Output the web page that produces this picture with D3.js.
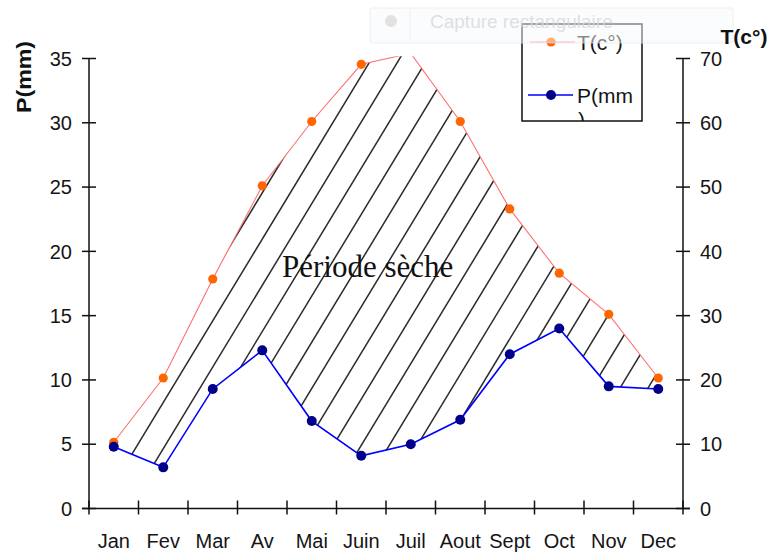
<!DOCTYPE html>
<html><head><meta charset="utf-8">
<script src="https://cdn.jsdelivr.net/npm/d3@7/dist/d3.min.js"></script>
<style>
html,body{margin:0;padding:0;background:#fff;}
svg{display:block;font-family:"Liberation Sans",Arial,sans-serif;}
</style></head>
<body>
<svg id="c" width="772" height="555"></svg>
<script>
const months = ["Jan","Fev","Mar","Av","Mai","Juin","Juil","Aout","Sept","Oct","Nov","Dec"];
const precip = [4.8, 3.2, 9.3, 12.3, 6.8, 4.1, 5.0, 6.9, 12.0, 14.0, 9.5, 9.3];
const temp = [10.3, 20.3, 35.7, 50.2, 60.2, 69.1, 70.8, 60.2, 46.6, 36.6, 30.2, 20.3];
const pTicks = [0,5,10,15,20,25,30,35];
const tTicks = [0,10,20,30,40,50,60,70];

const svg = d3.select("#c");
const L = 89, R = 683, T = 58.5, B = 508.5;
const x = d3.scaleBand().domain(months).range([L, R]).padding(0);
const cx = m => x(m) + x.bandwidth()/2;
const yP = d3.scaleLinear().domain([0,35]).range([B, T]);
const yT = d3.scaleLinear().domain([0,70]).range([B, T]);

const defs = svg.append("defs");
defs.append("clipPath").attr("id","plotclip").append("rect")
  .attr("x", L-10).attr("y", yT(70.35)).attr("width", R-L+20).attr("height", B - yT(70.35) + 10);

// hatch area between curves
const poly = months.map((m,i)=>[cx(m), yT(temp[i])])
  .concat(months.map((m,i)=>[cx(m), yP(precip[i])]).reverse());
const hc = defs.append("clipPath").attr("id","hatchclip");
hc.append("polygon").attr("points", poly.map(p=>p.join(",")).join(" "));
const hatch = svg.append("g").attr("clip-path","url(#hatchclip)").append("g").attr("clip-path","url(#plotclip)");
const slope = 1.65;
for (let k = -4; k < 32; k++) {
  const x0 = 99 + 28*k;
  hatch.append("line").attr("x1", x0).attr("y1", B).attr("x2", x0 + (B-30)/slope).attr("y2", 30)
    .attr("stroke","#2a2a2a").attr("stroke-width",1.5);
}

// axes
const axG = svg.append("g").attr("stroke","#111").attr("stroke-width",1.5);
axG.append("line").attr("x1",L).attr("x2",L).attr("y1",T).attr("y2",B);
axG.append("line").attr("x1",R).attr("x2",R).attr("y1",T).attr("y2",B);
axG.append("line").attr("x1",L-7).attr("x2",R+7).attr("y1",B).attr("y2",B);
pTicks.forEach(v=>{
  axG.append("line").attr("x1",L-7).attr("x2",L+7).attr("y1",yP(v)).attr("y2",yP(v));
  svg.append("text").attr("x",L-17).attr("y",yP(v)).attr("dy","0.36em")
    .attr("text-anchor","end").attr("font-size",20).attr("fill","#151515").text(v);
});
tTicks.forEach(v=>{
  axG.append("line").attr("x1",R-7).attr("x2",R+7).attr("y1",yT(v)).attr("y2",yT(v));
  svg.append("text").attr("x",R+17).attr("y",yT(v)).attr("dy","0.36em")
    .attr("text-anchor","start").attr("font-size",20).attr("fill","#151515").text(v);
});
months.concat(["__end"]).forEach((m,i)=>{
  const xv = i < months.length ? x(m) : R;
  axG.append("line").attr("x1",xv).attr("x2",xv).attr("y1",B-8).attr("y2",B+6);
});
months.forEach(m=>{
  svg.append("text").attr("x",cx(m)).attr("y",548).attr("text-anchor","middle")
    .attr("font-size",20).attr("fill","#151515").text(m);
});

// lines
const lineT = d3.line().x((d,i)=>cx(months[i])).y(d=>yT(d));
const lineP = d3.line().x((d,i)=>cx(months[i])).y(d=>yP(d));
const lg = svg.append("g").attr("clip-path","url(#plotclip)");
lg.append("path").datum(temp).attr("d",lineT).attr("fill","none").attr("stroke","#ff7070").attr("stroke-width",1.1);
lg.append("path").datum(precip).attr("d",lineP).attr("fill","none").attr("stroke","#0000ff").attr("stroke-width",1.6);
temp.forEach((v,i)=>{ if (v<=70) lg.append("circle").attr("cx",cx(months[i])).attr("cy",yT(v)).attr("r",4.6).attr("fill","#ff6600"); });
precip.forEach((v,i)=>{ lg.append("circle").attr("cx",cx(months[i])).attr("cy",yP(v)).attr("r",5).attr("fill","#00008b"); });

// Période sèche
svg.append("text").attr("x",282).attr("y",277)
  .style("font-family","'Liberation Serif','Times New Roman',serif")
  .attr("font-size",31).attr("fill","#111").text("Période sèche");

// legend
const leg = svg.append("g");
defs.append("clipPath").attr("id","legclip").append("rect").attr("x",522).attr("y",24).attr("width",120).attr("height",97);
leg.append("rect").attr("x",522).attr("y",24).attr("width",120).attr("height",97).attr("fill","#fff");
leg.append("line").attr("x1",530).attr("x2",575).attr("y1",42).attr("y2",42).attr("stroke","#ff7070").attr("stroke-width",1.1);
leg.append("circle").attr("cx",551).attr("cy",42).attr("r",4.6).attr("fill","#ff6600");
leg.append("text").attr("x",577).attr("y",50).attr("font-size",21).attr("fill","#151515").text("T(c°)");
leg.append("line").attr("x1",528).attr("x2",573).attr("y1",95).attr("y2",95).attr("stroke","#0000ff").attr("stroke-width",1.6);
leg.append("circle").attr("cx",551).attr("cy",95).attr("r",5).attr("fill","#00008b");
const lt = leg.append("g").attr("clip-path","url(#legclip)");
lt.append("text").attr("x",577).attr("y",103).attr("font-size",21).attr("fill","#151515").text("P(mm");
lt.append("text").attr("x",578).attr("y",127).attr("font-size",21).attr("fill","#151515").text(")");
leg.append("rect").attr("x",522).attr("y",24).attr("width",120).attr("height",97).attr("fill","none").attr("stroke","#111").attr("stroke-width",1.5);

// faint screenshot overlay
const wm = svg.append("g");
wm.append("rect").attr("x",370).attr("y",8).attr("width",363).attr("height",35).attr("rx",2)
  .attr("fill","rgba(248,249,252,0.5)").attr("stroke","rgba(225,228,235,0.6)");
wm.append("line").attr("x1",410).attr("x2",410).attr("y1",10).attr("y2",41).attr("stroke","rgba(225,228,235,0.6)");
wm.append("circle").attr("cx",391).attr("cy",21).attr("r",6).attr("fill","#e2e2e2");
wm.append("text").attr("x",430).attr("y",28).attr("font-size",19).attr("fill","rgba(215,215,218,0.8)").text("Capture rectangulaire");

// axis titles (on top)
svg.append("text").attr("transform","translate(31,77) rotate(-90)").attr("text-anchor","middle")
  .attr("font-size",20).attr("font-weight","bold").attr("fill","#111")
  .attr("textLength",72).attr("lengthAdjust","spacingAndGlyphs").text("P(mm)");
svg.append("text").attr("x",744).attr("y",44).attr("text-anchor","middle")
  .attr("font-size",21).attr("font-weight","bold").attr("fill","#111").text("T(c°)");
</script>
</body></html>
